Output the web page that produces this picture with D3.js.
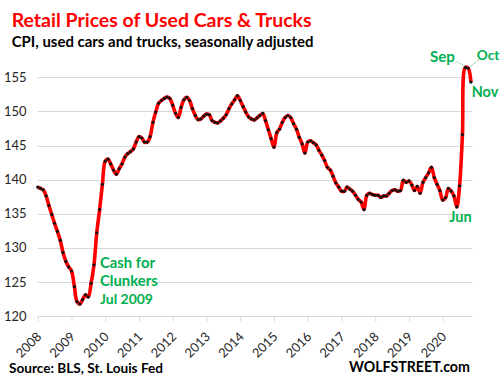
<!DOCTYPE html>
<html><head><meta charset="utf-8">
<script src="https://cdn.jsdelivr.net/npm/d3@7"></script>
<style>
body{margin:0;background:#fff}
svg{display:block}
text{font-family:Lato,"Open Sans",sans-serif}
</style>
</head><body>
<svg id="c" width="504" height="383"></svg>
<script>
// ---- data (CPI used cars & trucks, SA, monthly) ----
const years = [2008,2009,2010,2011,2012,2013,2014,2015,2016,2017,2018,2019,2020];
const cpi2008 = [138.9,138.7,138.5,137.6,136.2,134.9,133.6,132.4,131.1,129.3,128.0,127.2];
const cpi2009 = [126.6,124.3,122.1,121.75,122.4,123.1,122.8,124.8,127.5,132.2,135.6,139.3];
const cpi2010 = [142.7,143.0,142.3,141.4,140.8,141.6,142.3,143.3,143.8,144.1,144.5,145.5];
const cpi2011 = [146.3,146.1,145.5,145.5,146.3,148.4,149.9,151.2,151.6,151.9,152.1,151.9];
const cpi2012 = [150.9,149.7,149.1,150.6,151.7,152.05,151.6,150.4,149.4,148.8,148.9,149.3];
const cpi2013 = [149.6,149.5,148.65,148.4,148.3,148.6,149.0,149.5,150.4,151.1,151.7,152.3];
const cpi2014 = [151.6,150.7,149.9,149.2,148.9,148.75,149.05,149.4,149.7,148.65,147.3,146.0];
const cpi2015 = [144.75,146.9,147.4,148.4,149.1,149.4,149.1,148.2,147.4,146.2,145.25,143.9];
const cpi2016 = [145.5,145.7,145.4,145.1,144.3,143.6,142.8,141.8,141.4,140.5,139.5,138.9];
const cpi2017 = [138.3,138.3,138.9,138.6,138.3,137.7,137.1,136.7,135.6,137.7,138.0,137.8];
const cpi2018 = [137.7,137.7,137.4,137.6,137.6,138.0,138.4,138.5,138.3,138.4,139.9,139.6];
const cpi2019 = [139.8,139.2,138.4,139.0,138.0,139.6,140.3,141.0,141.8,140.3,139.3,138.4];
const cpi2020 = [137.0,137.35,138.7,138.3,137.6,136.0,139.1,146.6,156.45,156.35,154.3];
const yTicks = [120,125,130,135,140,145,150,155];

const byYear = [cpi2008,cpi2009,cpi2010,cpi2011,cpi2012,cpi2013,cpi2014,cpi2015,cpi2016,cpi2017,cpi2018,cpi2019,cpi2020];
const data = [];
byYear.forEach((arr, yi) => arr.forEach((v, m) => data.push({date: new Date(years[yi], m, 1), value: v})));

const svg = d3.select("#c");
const x = d3.scaleTime().domain([new Date(2008,0,1), new Date(2020,10,20)]).range([37.7, 472.7]);
const y = d3.scaleLinear().domain([120,155]).range([316, 77.3]);

function fit(sel, w){
  const base = parseFloat(sel.attr("font-size"));
  const len = sel.node().getComputedTextLength();
  sel.attr("font-size", (base * w / len).toFixed(2));
  return sel;
}

// gridlines
svg.append("g").selectAll("line").data(yTicks.filter(d => d > 120)).join("line")
  .attr("x1", 37.7).attr("x2", 472.7)
  .attr("y1", d => Math.round(y(d)) + 0.5).attr("y2", d => Math.round(y(d)) + 0.5)
  .attr("stroke", "#d9d9d9").attr("stroke-width", 1);

// x axis
const xAxis = d3.axisBottom(x)
  .tickValues(years.map(yr => new Date(yr,0,1)))
  .tickFormat(d3.timeFormat("%Y"))
  .tickSize(5).tickSizeOuter(0);
const gx = svg.append("g").attr("transform", "translate(0,316.5)").call(xAxis);
gx.select(".domain").attr("stroke", "#d9d9d9").attr("d", "M37.7,0H472.7");
gx.selectAll(".tick line").attr("stroke", "#d9d9d9");
gx.selectAll(".tick text")
  .attr("font-size", 12.8).attr("fill", "#262626")
  .attr("text-anchor", "end").attr("dy", null).attr("y", 0)
  .attr("transform", "translate(4,21) rotate(-45)");

// y labels
svg.append("g").selectAll("text").data(yTicks).join("text")
  .attr("x", 26.5).attr("y", d => y(d) + 4.6)
  .attr("text-anchor", "end").attr("font-size", 13).attr("fill", "#262626")
  .text(d => d);

// line
const line = d3.line().x(d => x(d.date)).y(d => y(d.value)).curve(d3.curveCatmullRom.alpha(0.5));
svg.append("path").datum(data).attr("d", line)
  .attr("fill", "none").attr("stroke", "#ff0000").attr("stroke-width", 3.6)
  .attr("stroke-linejoin", "round");
svg.append("g").selectAll("circle").data(data).join("circle")
  .attr("cx", d => x(d.date)).attr("cy", d => y(d.value)).attr("r", 1.6).attr("fill", "#111");

// titles
fit(svg.append("text").attr("x", 11.7).attr("y", 26.5).attr("font-size", 20).attr("font-weight", "bold")
  .attr("fill", "#ff0000").text("Retail Prices of Used Cars & Trucks"), 300);
fit(svg.append("text").attr("x", 11.7).attr("y", 46.5).attr("font-size", 14).attr("font-weight", "bold")
  .attr("fill", "#000").text("CPI, used cars and trucks, seasonally adjusted"), 302);
fit(svg.append("text").attr("x", 9).attr("y", 372.7).attr("font-size", 14).attr("font-weight", "bold")
  .attr("fill", "#000").text("Source: BLS, St. Louis Fed"), 154);
fit(svg.append("text").attr("x", 349).attr("y", 372).attr("font-size", 15).attr("font-weight", "bold")
  .attr("fill", "#000").text("WOLFSTREET.com"), 121);

// annotations
const green = "#00b050";
const notes = [
  {t:"Cash for", x:100, y:268, w:55},
  {t:"Clunkers", x:100, y:286, w:57.7},
  {t:"Jul 2009", x:100, y:304, w:53},
  {t:"Sep", x:430, y:61.5, w:25},
  {t:"Oct", x:476.7, y:60, w:22.6},
  {t:"Nov", x:471.7, y:97, w:26.6},
  {t:"Jun", x:449.3, y:222, w:22.4}
];
notes.forEach(n => fit(svg.append("text").attr("x", n.x).attr("y", n.y).attr("font-size", 15)
  .attr("font-weight", "bold").attr("fill", green).text(n.t), n.w));
const leaders = [[456.7,61.7,464.5,66],[479.3,59.3,470,67]];
svg.append("g").selectAll("line").data(leaders).join("line")
  .attr("x1", d => d[0]).attr("y1", d => d[1]).attr("x2", d => d[2]).attr("y2", d => d[3])
  .attr("stroke", green).attr("stroke-width", 0.8).attr("stroke-dasharray", "1,1");
</script>
</body></html>
